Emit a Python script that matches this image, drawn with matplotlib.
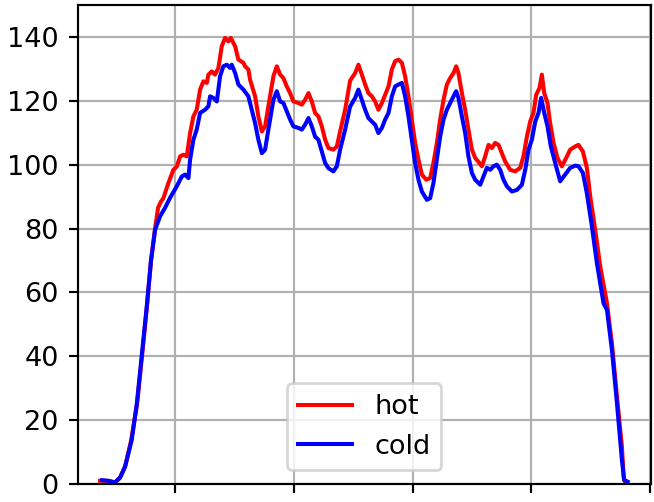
import matplotlib
matplotlib.use("Agg")
import matplotlib.pyplot as plt

# hot curve (red)
x_hot = [44.2, 52.3, 59.3, 64.4, 69.5, 75.5, 81.6, 86.6, 91.7, 95.7, 99.8, 102.8, 105.9,
         108.2, 113.2, 118.3, 121.7, 125.1, 128.4, 131.8, 135.2, 138.5, 141.9, 145.3,
         148.6, 152.1, 153.7, 157.1, 160.4, 163.8, 167.2, 170.6, 173.9, 176.3, 180.7,
         184.0, 189.1, 190.8, 194.1, 195.8, 200.9, 204.2, 207.7, 211.0, 214.3, 219.4,
         222.8, 226.2, 229.5, 232.9, 236.3, 239.6, 244.7, 248.1, 251.4, 254.8, 258.2,
         261.5, 264.9, 268.3, 271.7, 275.0, 280.0, 283.5, 286.8, 291.9, 296.9, 302.0,
         305.3, 308.8, 312.1, 315.4, 318.9, 322.2, 325.5, 329.0, 332.3, 335.7, 339.1,
         342.4, 345.8, 349.2, 352.5, 355.9, 359.3, 362.6, 366.0, 369.4, 373.8, 377.8,
         381.1, 384.6, 387.9, 391.3, 394.7, 398.0, 401.4, 404.1, 406.4, 409.9, 413.2,
         416.5, 420.0, 423.3, 426.3, 430.1, 433.4, 436.8, 440.2, 443.5, 446.9, 450.3,
         453.6, 458.7, 463.7, 468.8, 472.1, 475.6, 478.9, 482.2, 485.0, 488.3, 490.7,
         493.1, 496.4, 499.1, 502.5, 506.5, 510.9, 515.3, 519.3, 524.4, 527.7, 532.2,
         536.2, 539.6, 544.6, 549.7, 556.5, 561.5, 566.6, 571.6, 573.4, 574.4, 577.0]
y_hot = [1.0, 1.0, 0.5, 2.0, 5.5, 13.5, 25.0, 40.0, 56.0, 70.0, 80.0, 86.5, 88.5,
         89.5, 94.2, 98.4, 99.4, 102.6, 103.1, 102.6, 109.9, 115.1, 117.2, 123.5,
         126.1, 125.6, 128.2, 129.2, 128.2, 130.3, 137.1, 139.7, 138.6, 139.7, 137.1,
         132.9, 131.9, 130.8, 129.8, 126.6, 121.4, 115.1, 110.4, 112.0, 118.3, 127.7,
         130.8, 128.2, 127.1, 124.5, 122.4, 119.8, 119.3, 118.8, 120.3, 122.4, 119.8,
         116.2, 115.1, 112.0, 107.8, 105.2, 104.7, 105.7, 110.4, 117.2, 126.3, 128.7,
         131.3, 128.2, 125.1, 122.4, 121.4, 119.8, 117.2, 119.3, 121.9, 124.5, 129.8,
         132.4, 132.9, 131.9, 127.7, 121.4, 114.1, 106.8, 101.6, 96.9, 95.3, 95.8,
         100.5, 106.8, 114.1, 120.3, 125.1, 127.1, 128.7, 130.8, 128.7, 122.4, 117.2,
         111.0, 104.7, 102.1, 101.0, 99.5, 102.6, 106.2, 105.2, 106.8, 106.2, 103.6,
         101.0, 98.4, 97.9, 99.0, 102.6, 108.8, 113.5, 116.2, 121.9, 124.0, 128.2,
         122.4, 119.3, 113.0, 106.8, 102.1, 99.5, 102.1, 104.7, 105.7, 106.2, 104.1,
         99.0, 90.0, 79.6, 68.1, 56.6, 44.1, 27.4, 11.7, 2.0, 0.8, 0.7]

# cold curve (blue)
x_cold = [46.2, 52.3, 59.3, 64.4, 69.5, 76.2, 81.3, 86.3, 91.4, 95.7, 99.8, 104.8, 109.9,
          114.9, 121.7, 126.8, 130.1, 133.5, 135.2, 138.5, 141.9, 145.3, 150.3, 153.7,
          155.4, 158.7, 162.2, 165.5, 168.8, 172.3, 175.6, 177.3, 180.7, 184.0, 189.1,
          194.1, 195.8, 200.9, 204.2, 207.7, 211.0, 214.3, 219.4, 222.8, 226.2, 229.5,
          232.9, 236.3, 239.6, 244.7, 248.1, 251.4, 254.8, 258.2, 261.5, 264.9, 268.3,
          271.7, 275.0, 280.0, 283.5, 286.8, 291.9, 296.9, 302.0, 305.3, 308.8, 312.1,
          315.4, 318.9, 322.2, 325.5, 329.0, 332.3, 335.7, 339.1, 342.4, 345.8, 349.2,
          352.5, 355.9, 359.3, 362.6, 366.0, 369.4, 374.5, 377.8, 381.1, 384.6, 387.9,
          391.3, 394.7, 398.0, 401.4, 404.1, 406.4, 409.9, 413.2, 416.5, 420.0, 423.3,
          428.4, 431.7, 435.1, 438.5, 441.8, 445.2, 448.6, 451.9, 455.4, 460.4, 465.5,
          470.5, 473.9, 477.2, 480.6, 484.0, 487.3, 490.0, 493.1, 496.4, 499.8, 504.2,
          509.2, 514.3, 519.3, 524.4, 527.7, 532.2, 536.2, 541.3, 546.3, 553.0, 556.5,
          561.5, 566.6, 571.6, 573.9, 577.3]
y_cold = [1.2, 1.0, 0.5, 2.0, 5.4, 13.8, 25.0, 40.0, 55.6, 70.0, 79.6, 83.8, 86.5,
          89.6, 93.2, 96.3, 96.9, 95.8, 101.6, 107.8, 111.0, 116.2, 117.2, 118.3,
          121.4, 120.9, 119.8, 127.7, 130.8, 131.3, 130.3, 131.3, 128.7, 125.1, 123.5,
          121.4, 119.3, 113.0, 107.8, 103.6, 104.7, 111.0, 120.3, 123.0, 119.8, 119.3,
          116.7, 114.1, 112.0, 111.5, 111.0, 112.5, 114.6, 112.0, 108.8, 107.8, 104.1,
          100.5, 98.9, 97.9, 99.5, 104.7, 111.0, 118.2, 120.9, 123.5, 120.3, 117.2,
          114.6, 113.5, 112.5, 109.9, 111.5, 114.1, 116.2, 121.4, 124.5, 125.1, 125.6,
          121.4, 115.1, 107.8, 100.5, 95.3, 91.6, 89.0, 89.5, 94.2, 101.6, 108.8,
          114.1, 117.2, 119.3, 121.4, 123.0, 120.9, 115.1, 109.9, 102.6, 97.4, 95.3,
          93.7, 96.3, 99.0, 98.4, 99.5, 100.0, 98.4, 95.3, 93.2, 91.6, 92.1,
          93.7, 98.4, 104.7, 107.8, 113.5, 116.2, 120.9, 116.2, 112.0, 105.7, 100.5,
          94.8, 96.9, 99.0, 99.7, 99.5, 97.4, 91.0, 80.6, 69.2, 56.6, 54.5,
          42.0, 25.3, 7.5, 1.3, 0.7]

x_ticks = [120, 240, 360, 480, 600]
y_ticks = [0, 20, 40, 60, 80, 100, 120, 140]

DPI = 195
fig = plt.figure(figsize=(654 / DPI, 502 / DPI), dpi=DPI)
ax = fig.add_axes([77.7 / 654, 18 / 502, (651 - 77.7) / 654, (497 - 18) / 502])

ax.plot(x_hot, y_hot, color='r', label='hot')
ax.plot(x_cold, y_cold, color='b', label='cold')

ax.set_xlim(21.6, 601)
ax.set_ylim(0, 150)
ax.set_xticks(x_ticks)
ax.set_yticks(y_ticks)
ax.tick_params(axis='x', labelbottom=False)
ax.grid(True)
ax.legend(loc='lower center')

fig.savefig('out.png', dpi=DPI)
